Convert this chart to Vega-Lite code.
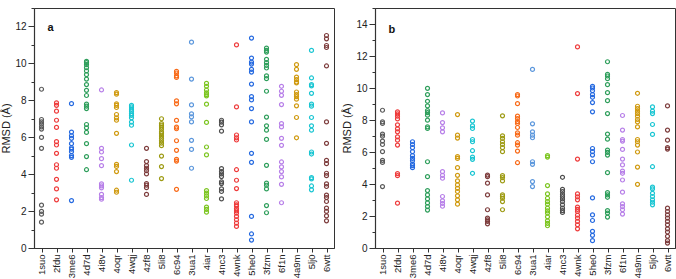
{
"$schema":"https://vega.github.io/schema/vega-lite/v6.json",
"padding":{"left":0,"top":2,"right":2,"bottom":0},
"spacing":6,
"config":{"font":"Liberation Sans","view":{"stroke":"#333","strokeWidth":1},
"axis":{"domainColor":"#333","domainWidth":1.2,"tickColor":"#333","tickWidth":1,"labelColor":"#222","titleColor":"#222","grid":false,"labelFont":"Liberation Sans","titleFont":"Liberation Sans","labelFontSize":10,"titleFontSize":11,"titleFontWeight":"normal","labelOverlap":false}},
"datasets":{
"a":[
{"c":"1suo","v":8.6},{"c":"1suo","v":6.96},{"c":"1suo","v":6.83},{"c":"1suo","v":6.71},{"c":"1suo","v":6.56},{"c":"1suo","v":6.44},{"c":"1suo","v":5.99},{"c":"1suo","v":5.4},{"c":"1suo","v":2.32},{"c":"1suo","v":1.98},{"c":"1suo","v":1.83},{"c":"1suo","v":1.4},
{"c":"2fdu","v":7.86},{"c":"2fdu","v":7.73},{"c":"2fdu","v":7.41},{"c":"2fdu","v":6.92},{"c":"2fdu","v":6.53},{"c":"2fdu","v":5.76},{"c":"2fdu","v":5.58},{"c":"2fdu","v":5.13},{"c":"2fdu","v":4.51},{"c":"2fdu","v":4.32},{"c":"2fdu","v":3.72},{"c":"2fdu","v":3.2},{"c":"2fdu","v":2.61},
{"c":"3me6","v":7.82},{"c":"3me6","v":6.28},{"c":"3me6","v":6.08},{"c":"3me6","v":5.94},{"c":"3me6","v":5.65},{"c":"3me6","v":5.43},{"c":"3me6","v":5.36},{"c":"3me6","v":5.22},{"c":"3me6","v":5.0},{"c":"3me6","v":4.91},{"c":"3me6","v":2.57},
{"c":"4d7d","v":10.11},{"c":"4d7d","v":10.04},{"c":"4d7d","v":9.93},{"c":"4d7d","v":9.77},{"c":"4d7d","v":9.59},{"c":"4d7d","v":9.39},{"c":"4d7d","v":9.15},{"c":"4d7d","v":8.85},{"c":"4d7d","v":8.54},{"c":"4d7d","v":8.26},{"c":"4d7d","v":7.79},{"c":"4d7d","v":7.68},{"c":"4d7d","v":7.55},{"c":"4d7d","v":6.69},{"c":"4d7d","v":6.51},{"c":"4d7d","v":6.26},{"c":"4d7d","v":5.65},{"c":"4d7d","v":4.95},{"c":"4d7d","v":4.24},
{"c":"4i8v","v":8.56},{"c":"4i8v","v":5.4},{"c":"4i8v","v":5.2},{"c":"4i8v","v":4.84},{"c":"4i8v","v":4.46},{"c":"4i8v","v":3.47},{"c":"4i8v","v":3.36},{"c":"4i8v","v":3.26},{"c":"4i8v","v":2.9},{"c":"4i8v","v":2.73},{"c":"4i8v","v":2.64},
{"c":"4oqr","v":8.42},{"c":"4oqr","v":8.33},{"c":"4oqr","v":7.81},{"c":"4oqr","v":7.73},{"c":"4oqr","v":7.61},{"c":"4oqr","v":7.23},{"c":"4oqr","v":7.05},{"c":"4oqr","v":6.92},{"c":"4oqr","v":6.21},{"c":"4oqr","v":4.53},{"c":"4oqr","v":4.42},{"c":"4oqr","v":4.14},{"c":"4oqr","v":3.13},{"c":"4oqr","v":3.02},
{"c":"4wqj","v":7.73},{"c":"4wqj","v":7.64},{"c":"4wqj","v":7.52},{"c":"4wqj","v":7.41},{"c":"4wqj","v":7.28},{"c":"4wqj","v":7.18},{"c":"4wqj","v":7.05},{"c":"4wqj","v":6.82},{"c":"4wqj","v":6.65},{"c":"4wqj","v":5.58},{"c":"4wqj","v":3.67},
{"c":"4zf8","v":5.4},{"c":"4zf8","v":4.68},{"c":"4zf8","v":4.46},{"c":"4zf8","v":4.32},{"c":"4zf8","v":4.19},{"c":"4zf8","v":4.01},{"c":"4zf8","v":3.49},{"c":"4zf8","v":3.4},{"c":"4zf8","v":3.27},{"c":"4zf8","v":2.9},
{"c":"5li8","v":7.0},{"c":"5li8","v":6.74},{"c":"5li8","v":6.65},{"c":"5li8","v":6.55},{"c":"5li8","v":6.44},{"c":"5li8","v":6.29},{"c":"5li8","v":6.19},{"c":"5li8","v":6.06},{"c":"5li8","v":5.94},{"c":"5li8","v":5.81},{"c":"5li8","v":5.68},{"c":"5li8","v":5.54},{"c":"5li8","v":4.98},{"c":"5li8","v":4.41},{"c":"5li8","v":3.76},
{"c":"6c94","v":9.57},{"c":"6c94","v":9.48},{"c":"6c94","v":9.32},{"c":"6c94","v":9.24},{"c":"6c94","v":7.97},{"c":"6c94","v":7.81},{"c":"6c94","v":6.91},{"c":"6c94","v":6.55},{"c":"6c94","v":6.46},{"c":"6c94","v":5.81},{"c":"6c94","v":5.29},{"c":"6c94","v":4.8},{"c":"6c94","v":4.71},{"c":"6c94","v":3.18},
{"c":"3ua1","v":11.15},{"c":"3ua1","v":9.15},{"c":"3ua1","v":7.75},{"c":"3ua1","v":7.27},{"c":"3ua1","v":7.1},{"c":"3ua1","v":6.83},{"c":"3ua1","v":5.83},{"c":"3ua1","v":5.34},{"c":"3ua1","v":4.32},
{"c":"4iar","v":8.92},{"c":"4iar","v":8.76},{"c":"4iar","v":8.56},{"c":"4iar","v":8.4},{"c":"4iar","v":8.31},{"c":"4iar","v":8.24},{"c":"4iar","v":7.79},{"c":"4iar","v":6.8},{"c":"4iar","v":5.47},{"c":"4iar","v":5.04},{"c":"4iar","v":3.11},{"c":"4iar","v":2.97},{"c":"4iar","v":2.82},{"c":"4iar","v":2.68},{"c":"4iar","v":2.21},{"c":"4iar","v":2.09},{"c":"4iar","v":1.94},
{"c":"4nc3","v":6.92},{"c":"4nc3","v":6.82},{"c":"4nc3","v":6.67},{"c":"4nc3","v":6.33},{"c":"4nc3","v":4.3},{"c":"4nc3","v":4.14},{"c":"4nc3","v":4.01},{"c":"4nc3","v":3.87},{"c":"4nc3","v":3.58},{"c":"4nc3","v":3.49},{"c":"4nc3","v":3.2},{"c":"4nc3","v":3.06},{"c":"4nc3","v":2.66},
{"c":"4wnk","v":11.0},{"c":"4wnk","v":7.64},{"c":"4wnk","v":6.12},{"c":"4wnk","v":5.97},{"c":"4wnk","v":5.85},{"c":"4wnk","v":4.24},{"c":"4wnk","v":3.67},{"c":"4wnk","v":3.22},{"c":"4wnk","v":2.45},{"c":"4wnk","v":2.34},{"c":"4wnk","v":2.27},{"c":"4wnk","v":2.12},{"c":"4wnk","v":2.01},{"c":"4wnk","v":1.89},{"c":"4wnk","v":1.71},{"c":"4wnk","v":1.53},{"c":"4wnk","v":1.35},{"c":"4wnk","v":1.17},
{"c":"5he0","v":11.37},{"c":"5he0","v":10.29},{"c":"5he0","v":10.07},{"c":"5he0","v":9.96},{"c":"5he0","v":9.68},{"c":"5he0","v":9.53},{"c":"5he0","v":8.88},{"c":"5he0","v":8.2},{"c":"5he0","v":8.02},{"c":"5he0","v":7.55},{"c":"5he0","v":6.83},{"c":"5he0","v":5.13},{"c":"5he0","v":4.64},{"c":"5he0","v":1.71},{"c":"5he0","v":0.76},{"c":"5he0","v":0.43},
{"c":"3fzm","v":10.83},{"c":"3fzm","v":10.7},{"c":"3fzm","v":10.61},{"c":"3fzm","v":10.22},{"c":"3fzm","v":10.04},{"c":"3fzm","v":9.89},{"c":"3fzm","v":9.75},{"c":"3fzm","v":9.32},{"c":"3fzm","v":9.17},{"c":"3fzm","v":8.49},{"c":"3fzm","v":7.09},{"c":"3fzm","v":6.62},{"c":"3fzm","v":6.38},{"c":"3fzm","v":5.88},{"c":"3fzm","v":4.48},{"c":"3fzm","v":3.51},{"c":"3fzm","v":3.4},{"c":"3fzm","v":3.2},{"c":"3fzm","v":2.3},{"c":"3fzm","v":1.91},
{"c":"6f1n","v":8.76},{"c":"6f1n","v":8.49},{"c":"6f1n","v":8.27},{"c":"6f1n","v":7.77},{"c":"6f1n","v":6.74},{"c":"6f1n","v":6.56},{"c":"6f1n","v":5.94},{"c":"6f1n","v":5.56},{"c":"6f1n","v":4.66},{"c":"6f1n","v":4.39},{"c":"6f1n","v":4.14},{"c":"6f1n","v":3.85},{"c":"6f1n","v":3.45},{"c":"6f1n","v":2.45},
{"c":"4a9m","v":9.93},{"c":"4a9m","v":9.68},{"c":"4a9m","v":9.26},{"c":"4a9m","v":9.12},{"c":"4a9m","v":8.99},{"c":"4a9m","v":8.94},{"c":"4a9m","v":8.45},{"c":"4a9m","v":8.31},{"c":"4a9m","v":8.2},{"c":"4a9m","v":8.06},{"c":"4a9m","v":7.7},{"c":"4a9m","v":7.07},{"c":"4a9m","v":5.97},
{"c":"5lj0","v":10.7},{"c":"5lj0","v":9.21},{"c":"5lj0","v":8.85},{"c":"5lj0","v":8.78},{"c":"5lj0","v":8.38},{"c":"5lj0","v":7.79},{"c":"5lj0","v":7.68},{"c":"5lj0","v":7.07},{"c":"5lj0","v":6.62},{"c":"5lj0","v":6.38},{"c":"5lj0","v":5.2},{"c":"5lj0","v":5.09},{"c":"5lj0","v":3.81},{"c":"5lj0","v":3.74},{"c":"5lj0","v":3.36},{"c":"5lj0","v":3.15},
{"c":"6wtt","v":11.51},{"c":"6wtt","v":11.33},{"c":"6wtt","v":10.97},{"c":"6wtt","v":10.86},{"c":"6wtt","v":9.86},{"c":"6wtt","v":6.83},{"c":"6wtt","v":5.67},{"c":"6wtt","v":4.75},{"c":"6wtt","v":4.57},{"c":"6wtt","v":4.05},{"c":"6wtt","v":3.92},{"c":"6wtt","v":3.47},{"c":"6wtt","v":3.33},{"c":"6wtt","v":2.86},{"c":"6wtt","v":2.73},{"c":"6wtt","v":2.52},{"c":"6wtt","v":2.16},{"c":"6wtt","v":1.98},{"c":"6wtt","v":1.74},{"c":"6wtt","v":1.47}
],
"b":[
{"c":"1suo","v":8.61},{"c":"1suo","v":7.88},{"c":"1suo","v":7.78},{"c":"1suo","v":7.12},{"c":"1suo","v":6.99},{"c":"1suo","v":6.68},{"c":"1suo","v":6.47},{"c":"1suo","v":6.02},{"c":"1suo","v":5.48},{"c":"1suo","v":5.35},{"c":"1suo","v":3.84},
{"c":"2fdu","v":8.51},{"c":"2fdu","v":8.38},{"c":"2fdu","v":8.24},{"c":"2fdu","v":8.07},{"c":"2fdu","v":7.7},{"c":"2fdu","v":7.45},{"c":"2fdu","v":7.26},{"c":"2fdu","v":6.95},{"c":"2fdu","v":6.74},{"c":"2fdu","v":6.43},{"c":"2fdu","v":4.65},{"c":"2fdu","v":4.52},{"c":"2fdu","v":2.8},
{"c":"3me6","v":6.64},{"c":"3me6","v":6.47},{"c":"3me6","v":6.27},{"c":"3me6","v":6.02},{"c":"3me6","v":5.77},{"c":"3me6","v":5.6},{"c":"3me6","v":5.46},{"c":"3me6","v":5.25},{"c":"3me6","v":5.15},{"c":"3me6","v":5.02},
{"c":"4d7d","v":9.98},{"c":"4d7d","v":9.59},{"c":"4d7d","v":9.17},{"c":"4d7d","v":8.88},{"c":"4d7d","v":8.59},{"c":"4d7d","v":8.46},{"c":"4d7d","v":8.3},{"c":"4d7d","v":7.99},{"c":"4d7d","v":7.57},{"c":"4d7d","v":7.47},{"c":"4d7d","v":5.39},{"c":"4d7d","v":4.46},{"c":"4d7d","v":3.59},{"c":"4d7d","v":3.32},{"c":"4d7d","v":3.07},{"c":"4d7d","v":2.82},{"c":"4d7d","v":2.59},{"c":"4d7d","v":2.37},
{"c":"4i8v","v":8.44},{"c":"4i8v","v":7.84},{"c":"4i8v","v":7.51},{"c":"4i8v","v":7.26},{"c":"4i8v","v":4.77},{"c":"4i8v","v":4.54},{"c":"4i8v","v":4.36},{"c":"4i8v","v":3.22},{"c":"4i8v","v":2.95},{"c":"4i8v","v":2.78},{"c":"4i8v","v":2.61},
{"c":"4oqr","v":8.34},{"c":"4oqr","v":7.05},{"c":"4oqr","v":6.87},{"c":"4oqr","v":5.71},{"c":"4oqr","v":5.6},{"c":"4oqr","v":5.02},{"c":"4oqr","v":4.54},{"c":"4oqr","v":4.19},{"c":"4oqr","v":3.94},{"c":"4oqr","v":3.73},{"c":"4oqr","v":3.53},{"c":"4oqr","v":3.26},{"c":"4oqr","v":3.01},{"c":"4oqr","v":2.74},
{"c":"4wqj","v":7.93},{"c":"4wqj","v":7.63},{"c":"4wqj","v":7.47},{"c":"4wqj","v":6.78},{"c":"4wqj","v":6.64},{"c":"4wqj","v":6.08},{"c":"4wqj","v":5.68},{"c":"4wqj","v":5.54},{"c":"4wqj","v":4.67},
{"c":"4zf8","v":4.56},{"c":"4zf8","v":4.46},{"c":"4zf8","v":4.05},{"c":"4zf8","v":3.32},{"c":"4zf8","v":2.39},{"c":"4zf8","v":1.87},{"c":"4zf8","v":1.76},{"c":"4zf8","v":1.66},{"c":"4zf8","v":1.51},
{"c":"5li8","v":8.26},{"c":"5li8","v":7.01},{"c":"5li8","v":6.85},{"c":"5li8","v":6.64},{"c":"5li8","v":6.47},{"c":"5li8","v":6.27},{"c":"5li8","v":6.02},{"c":"5li8","v":4.52},{"c":"5li8","v":4.4},{"c":"5li8","v":4.19},{"c":"5li8","v":3.32},{"c":"5li8","v":3.22},{"c":"5li8","v":3.11},{"c":"5li8","v":2.9},{"c":"5li8","v":2.39},
{"c":"6c94","v":9.59},{"c":"6c94","v":9.5},{"c":"6c94","v":9.02},{"c":"6c94","v":8.24},{"c":"6c94","v":8.09},{"c":"6c94","v":7.9},{"c":"6c94","v":7.78},{"c":"6c94","v":7.53},{"c":"6c94","v":7.2},{"c":"6c94","v":7.05},{"c":"6c94","v":6.58},{"c":"6c94","v":6.43},{"c":"6c94","v":6.06},{"c":"6c94","v":5.33},
{"c":"3ua1","v":11.16},{"c":"3ua1","v":7.76},{"c":"3ua1","v":7.26},{"c":"3ua1","v":7.05},{"c":"3ua1","v":6.89},{"c":"3ua1","v":5.39},{"c":"3ua1","v":5.23},{"c":"3ua1","v":4.15},{"c":"3ua1","v":3.84},
{"c":"4iar","v":5.77},{"c":"4iar","v":5.68},{"c":"4iar","v":3.9},{"c":"4iar","v":3.38},{"c":"4iar","v":3.11},{"c":"4iar","v":2.9},{"c":"4iar","v":2.74},{"c":"4iar","v":2.49},{"c":"4iar","v":2.32},{"c":"4iar","v":2.18},{"c":"4iar","v":1.95},{"c":"4iar","v":1.7},{"c":"4iar","v":1.54},{"c":"4iar","v":1.39},
{"c":"4nc3","v":4.42},{"c":"4nc3","v":3.67},{"c":"4nc3","v":3.53},{"c":"4nc3","v":3.36},{"c":"4nc3","v":3.22},{"c":"4nc3","v":3.07},{"c":"4nc3","v":2.9},{"c":"4nc3","v":2.7},{"c":"4nc3","v":2.49},{"c":"4nc3","v":2.34},{"c":"4nc3","v":2.22},
{"c":"4wnk","v":12.57},{"c":"4wnk","v":9.65},{"c":"4wnk","v":5.56},{"c":"4wnk","v":3.38},{"c":"4wnk","v":3.2},{"c":"4wnk","v":3.01},{"c":"4wnk","v":2.55},{"c":"4wnk","v":2.41},{"c":"4wnk","v":2.28},{"c":"4wnk","v":2.05},{"c":"4wnk","v":1.87},{"c":"4wnk","v":1.66},{"c":"4wnk","v":1.45},{"c":"4wnk","v":1.2},
{"c":"5he0","v":10.1},{"c":"5he0","v":10.0},{"c":"5he0","v":9.83},{"c":"5he0","v":9.59},{"c":"5he0","v":9.42},{"c":"5he0","v":9.09},{"c":"5he0","v":8.51},{"c":"5he0","v":6.22},{"c":"5he0","v":6.02},{"c":"5he0","v":5.81},{"c":"5he0","v":5.39},{"c":"5he0","v":3.13},{"c":"5he0","v":2.07},{"c":"5he0","v":1.72},{"c":"5he0","v":1.04},{"c":"5he0","v":0.79},{"c":"5he0","v":0.46},
{"c":"3fzm","v":11.64},{"c":"3fzm","v":10.85},{"c":"3fzm","v":10.75},{"c":"3fzm","v":10.58},{"c":"3fzm","v":10.21},{"c":"3fzm","v":9.71},{"c":"3fzm","v":9.21},{"c":"3fzm","v":8.4},{"c":"3fzm","v":7.12},{"c":"3fzm","v":6.8},{"c":"3fzm","v":6.12},{"c":"3fzm","v":5.98},{"c":"3fzm","v":5.81},{"c":"3fzm","v":4.71},{"c":"3fzm","v":3.46},{"c":"3fzm","v":3.32},{"c":"3fzm","v":3.17},{"c":"3fzm","v":2.34},{"c":"3fzm","v":2.18},{"c":"3fzm","v":1.93},
{"c":"6f1n","v":8.28},{"c":"6f1n","v":7.37},{"c":"6f1n","v":6.78},{"c":"6f1n","v":6.68},{"c":"6f1n","v":6.16},{"c":"6f1n","v":5.56},{"c":"6f1n","v":5.19},{"c":"6f1n","v":4.81},{"c":"6f1n","v":4.67},{"c":"6f1n","v":4.25},{"c":"6f1n","v":3.49},{"c":"6f1n","v":2.76},{"c":"6f1n","v":2.59},{"c":"6f1n","v":2.39},{"c":"6f1n","v":2.12},
{"c":"4a9m","v":9.67},{"c":"4a9m","v":8.86},{"c":"4a9m","v":8.71},{"c":"4a9m","v":8.55},{"c":"4a9m","v":8.4},{"c":"4a9m","v":8.24},{"c":"4a9m","v":8.03},{"c":"4a9m","v":7.88},{"c":"4a9m","v":7.57},{"c":"4a9m","v":6.78},{"c":"4a9m","v":6.64},{"c":"4a9m","v":6.43},{"c":"4a9m","v":6.0},{"c":"4a9m","v":5.06},{"c":"4a9m","v":3.98},
{"c":"5lj0","v":8.82},{"c":"5lj0","v":8.55},{"c":"5lj0","v":8.4},{"c":"5lj0","v":7.72},{"c":"5lj0","v":7.1},{"c":"5lj0","v":5.08},{"c":"5lj0","v":3.8},{"c":"5lj0","v":3.69},{"c":"5lj0","v":3.42},{"c":"5lj0","v":3.22},{"c":"5lj0","v":3.01},{"c":"5lj0","v":2.86},{"c":"5lj0","v":2.7},
{"c":"6wtt","v":8.88},{"c":"6wtt","v":7.37},{"c":"6wtt","v":6.74},{"c":"6wtt","v":6.27},{"c":"6wtt","v":6.18},{"c":"6wtt","v":2.49},{"c":"6wtt","v":2.28},{"c":"6wtt","v":2.07},{"c":"6wtt","v":1.87},{"c":"6wtt","v":1.66},{"c":"6wtt","v":1.45},{"c":"6wtt","v":1.2},{"c":"6wtt","v":1.0},{"c":"6wtt","v":0.73},{"c":"6wtt","v":0.46},{"c":"6wtt","v":0.31}
]},
"hconcat":[
{"width":300,"height":240,
"layer":[
{"data":{"name":"a"},"mark":{"type":"point","shape":"circle","filled":false,"size":16,"strokeWidth":1.2,"opacity":1},
"encoding":{
"x":{"field":"c","type":"nominal","sort":["1suo","2fdu","3me6","4d7d","4i8v","4oqr","4wqj","4zf8","5li8","6c94","3ua1","4iar","4nc3","4wnk","5he0","3fzm","6f1n","4a9m","5lj0","6wtt"],"axis":{"title":null,"labelAngle":-90,"labelAlign":"right","labelBaseline":"middle","tickSize":4,"labelPadding":2,"labelFontSize":9.5,"labelOverlap":false}},
"y":{"field":"v","type":"quantitative","scale":{"domain":[0,13],"nice":false},"axis":{"title":"RMSD (Å)","values":[0,1,2,3,4,5,6,7,8,9,10,11,12,13],"labelOverlap":false,"labelExpr":"datum.value % 2 == 0 ? datum.label : ''","tickSize":{"condition":{"test":"datum.value % 2 == 1","value":3},"value":6},"labelPadding":2,"titlePadding":3}},
"color":{"field":"c","type":"nominal","legend":null,"scale":{"domain":["1suo","2fdu","3me6","4d7d","4i8v","4oqr","4wqj","4zf8","5li8","6c94","3ua1","4iar","4nc3","4wnk","5he0","3fzm","6f1n","4a9m","5lj0","6wtt"],"range":["#5a5a5a","#ee3b3b","#2469e0","#2e9e5b","#b77fe8","#d09a10","#19c5d2","#7d3c3c","#9d9a12","#f86a18","#5a96dc","#7cc520","#4d4d4d","#ee3b3b","#2469e0","#2e9e5b","#b77fe8","#d09a10","#19c5d2","#7d3c3c"]}}}},
{"data":{"values":[{"t":"a"}]},"mark":{"type":"text","align":"left","baseline":"middle","dx":6,"fontWeight":"bold","fontSize":11,"font":"Liberation Sans","color":"#111"},
"encoding":{
"x":{"datum":"1suo","type":"nominal","axis":{"title":null,"labelAngle":-90,"labelAlign":"right","labelBaseline":"middle","tickSize":4,"labelPadding":2,"labelFontSize":9.5,"labelOverlap":false}},
"y":{"datum":11.9,"type":"quantitative","axis":{"title":"RMSD (Å)","values":[0,1,2,3,4,5,6,7,8,9,10,11,12,13],"labelOverlap":false,"labelExpr":"datum.value % 2 == 0 ? datum.label : ''","tickSize":{"condition":{"test":"datum.value % 2 == 1","value":3},"value":6},"labelPadding":2,"titlePadding":3}},
"text":{"field":"t"}}}
]},
{"width":300,"height":240,
"layer":[
{"data":{"name":"b"},"mark":{"type":"point","shape":"circle","filled":false,"size":16,"strokeWidth":1.2,"opacity":1},
"encoding":{
"x":{"field":"c","type":"nominal","sort":["1suo","2fdu","3me6","4d7d","4i8v","4oqr","4wqj","4zf8","5li8","6c94","3ua1","4iar","4nc3","4wnk","5he0","3fzm","6f1n","4a9m","5lj0","6wtt"],"axis":{"title":null,"labelAngle":-90,"labelAlign":"right","labelBaseline":"middle","tickSize":4,"labelPadding":2,"labelFontSize":9.5,"labelOverlap":false}},
"y":{"field":"v","type":"quantitative","scale":{"domain":[0,15],"nice":false},"axis":{"title":"RMSD (Å)","values":[0,1,2,3,4,5,6,7,8,9,10,11,12,13,14,15],"labelOverlap":false,"labelExpr":"datum.value % 2 == 0 ? datum.label : ''","tickSize":{"condition":{"test":"datum.value % 2 == 1","value":3},"value":6},"labelPadding":2,"titlePadding":3}},
"color":{"field":"c","type":"nominal","legend":null}}},
{"data":{"values":[{"t":"b"}]},"mark":{"type":"text","align":"left","baseline":"middle","dx":6,"fontWeight":"bold","fontSize":11,"font":"Liberation Sans","color":"#111"},
"encoding":{
"x":{"datum":"1suo","type":"nominal","axis":{"title":null,"labelAngle":-90,"labelAlign":"right","labelBaseline":"middle","tickSize":4,"labelPadding":2,"labelFontSize":9.5,"labelOverlap":false}},
"y":{"datum":13.65,"type":"quantitative","axis":{"title":"RMSD (Å)","values":[0,1,2,3,4,5,6,7,8,9,10,11,12,13,14,15],"labelOverlap":false,"labelExpr":"datum.value % 2 == 0 ? datum.label : ''","tickSize":{"condition":{"test":"datum.value % 2 == 1","value":3},"value":6},"labelPadding":2,"titlePadding":3}},
"text":{"field":"t"}}}
]}
]
}
